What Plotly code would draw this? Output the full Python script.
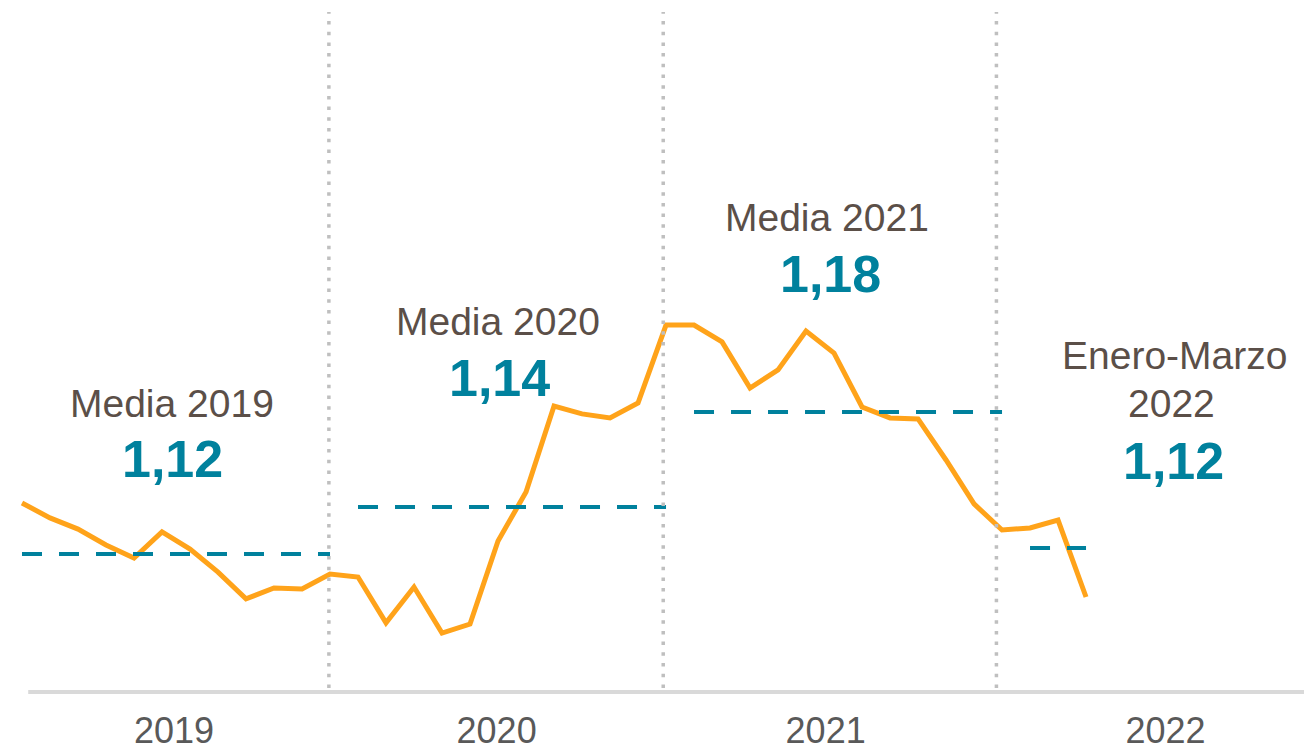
import plotly.graph_objects as go

# --- datos (índice mensual ene-2019 ... mar-2022) ---
meses = [f"{a}-{m:02d}" for a in (2019, 2020, 2021) for m in range(1, 13)] + ["2022-01", "2022-02", "2022-03"]
valores_2019 = [1.1417, 1.1354, 1.1307, 1.1240, 1.1185, 1.1295, 1.1223, 1.1126, 1.1013, 1.1059, 1.1055, 1.1118]
valores_2020 = [1.1105, 1.0912, 1.1063, 1.0869, 1.0907, 1.1257, 1.1463, 1.1825, 1.1792, 1.1775, 1.1838, 1.2166]
valores_2021 = [1.2166, 1.2095, 1.1901, 1.1977, 1.2141, 1.2048, 1.1821, 1.1775, 1.1771, 1.1598, 1.1413, 1.1303]
valores_2022 = [1.1312, 1.1345, 1.1021]
valores = valores_2019 + valores_2020 + valores_2021 + valores_2022

anios = ["2019", "2020", "2021", "2022"]
media = [1.1202, 1.1400, 1.1800, 1.1227]
media_txt = ["1,12", "1,14", "1,18", "1,12"]
titulos = ["Media 2019", "Media 2020", "Media 2021", "Enero-Marzo"]

NARANJA = "#FFA31A"
AZUL = "#00819D"
GRIS_TXT = "#5B4F48"
FONT = "Arial, Liberation Sans, sans-serif"

x = list(range(len(meses)))

fig = go.Figure()

# linea mensual
fig.add_trace(go.Scatter(x=x, y=valores, mode="lines",
                         line=dict(color=NARANJA, width=5),
                         cliponaxis=False, showlegend=False, hoverinfo="skip"))

# medias anuales (discontinuas)
tramos = [(0, 12), (12, 24), (24, 36), (36, 39)]
for (i0, i1), m in zip(tramos, media):
    fig.add_trace(go.Scatter(x=[x[i0], x[i1 - 1]], y=[m, m], mode="lines",
                             line=dict(color=AZUL, width=4, dash="20px,17px"),
                             cliponaxis=False, showlegend=False, hoverinfo="skip"))

# separadores de año (punteados)
for xs in [10.96, 22.9, 34.8]:
    fig.add_shape(type="line", xref="x", yref="paper", x0=xs, x1=xs, y0=0.006, y1=0.994,
                  line=dict(color="#BFBFBF", width=3.5, dash="3.5px,7.2px"))

# eje inferior (hasta el borde derecho)
fig.add_shape(type="line", xref="paper", yref="paper", x0=0.0155, x1=1.02, y0=0, y1=0,
              line=dict(color="#D9D9D9", width=4))

# textos de medias
pos_titulo = [(5.36, 1.1834), (17.0, 1.2183), (28.75, 1.2621), (41.15, 1.2040)]
pos_valor = [(5.39, 1.1602), (17.04, 1.1943), (28.89, 1.2381), (41.13, 1.1594)]
for t, v, (xt, yt), (xv, yv) in zip(titulos, media_txt, pos_titulo, pos_valor):
    fig.add_annotation(x=xt, y=yt, text=t, showarrow=False, xanchor="center", yanchor="middle",
                       font=dict(family=FONT, size=39, color=GRIS_TXT))
    fig.add_annotation(x=xv, y=yv, text=f"<b>{v}</b>", showarrow=False, xanchor="center", yanchor="middle",
                       font=dict(family=FONT, size=52, color=AZUL))
# segunda línea del último rótulo
fig.add_annotation(x=41.04, y=1.1834, text="2022", showarrow=False, xanchor="center", yanchor="middle",
                   font=dict(family=FONT, size=39, color=GRIS_TXT))

# la página añade 8px de margen al body: la figura ocupa 1304x743
fig.update_layout(
    width=1304, height=743,
    margin=dict(l=0, r=0, t=0, b=59),
    paper_bgcolor="white", plot_bgcolor="white",
    xaxis=dict(range=[-0.5, 46.07], showgrid=False, zeroline=False, showline=False,
               tickvals=[5.43, 16.95, 28.7, 40.84], ticktext=anios, ticks="",
               ticklabelstandoff=14,
               tickfont=dict(family=FONT, size=36, color="#595959"), automargin=False),
    yaxis=dict(range=[1.06211, 1.3501], visible=False, automargin=False),
)

fig.write_html("out.html")
